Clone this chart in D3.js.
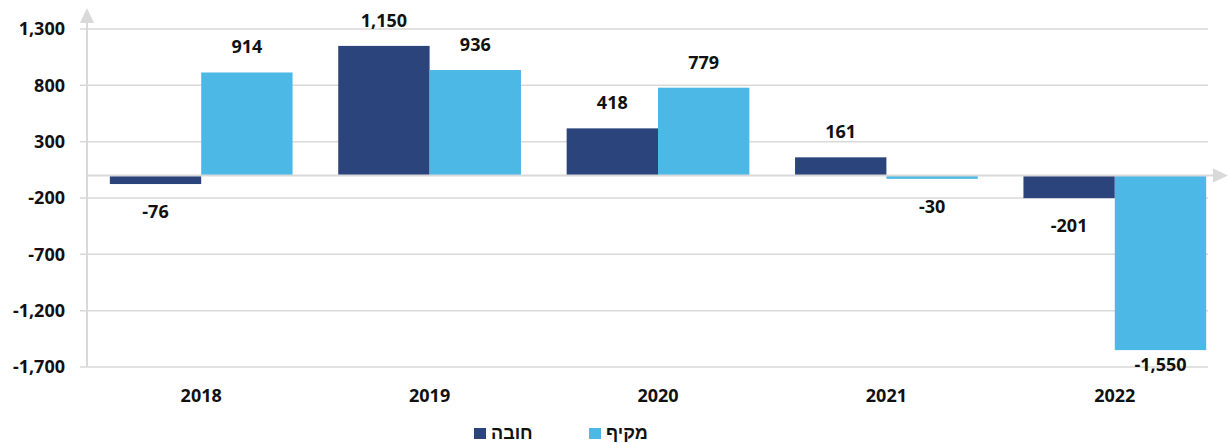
<!DOCTYPE html>
<html>
<head>
<meta charset="utf-8">
<script src="https://cdn.jsdelivr.net/npm/d3@7"></script>
<style>
  body { margin: 0; background: #fff; }
  svg { display: block; font-family: "Noto Sans", sans-serif; font-weight: 700; }
</style>
</head>
<body>
<svg id="chart" width="1229" height="443"></svg>
<script>
const years = ['2018', '2019', '2020', '2021', '2022'];
const seriesNames = ['חובה', 'מקיף'];
const hovaValues = [-76, 1150, 418, 161, -201];
const makifValues = [914, 936, 779, -30, -1550];
const yTicks = [1300, 800, 300, -200, -700, -1200, -1700];
const colors = ['#2b457c', '#4bb8e6'];

const width = 1229, height = 443;
const plot = { left: 87, right: 1229, top: 29, bottom: 367 };
const gridRight = 1208;
const fontSize = 18;

// plain hyphen for negatives, like the original
const fmt = v => d3.format(',')(v).replace('\u2212', '-');

const svg = d3.select('#chart');

const x = d3.scaleBand()
    .domain(years)
    .range([plot.left, plot.right])
    .paddingInner(0.2)
    .paddingOuter(0.1);

const xInner = d3.scaleBand()
    .domain(seriesNames)
    .range([0, x.bandwidth()]);

const y = d3.scaleLinear()
    .domain([-1700, 1300])
    .range([plot.bottom, plot.top]);

const data = years.map((yr, i) => ({
    year: yr,
    values: [
        { name: seriesNames[0], value: hovaValues[i], color: colors[0] },
        { name: seriesNames[1], value: makifValues[i], color: colors[1] }
    ]
}));

// gridlines
svg.append('g')
    .selectAll('line')
    .data(yTicks)
    .enter()
    .append('line')
    .attr('x1', plot.left - 7)
    .attr('x2', gridRight)
    .attr('y1', d => y(d))
    .attr('y2', d => y(d))
    .attr('stroke', '#d9d9d9')
    .attr('stroke-width', 1.5);

// y tick labels
svg.append('g')
    .attr('transform', `translate(${plot.left}, 0)`)
    .call(d3.axisLeft(y).tickValues(yTicks).tickSize(0).tickPadding(22).tickFormat(fmt))
    .call(g => g.select('.domain').remove())
    .selectAll('text')
    .attr('font-size', fontSize)
    .attr('font-family', '"Noto Sans", sans-serif')
    .attr('font-weight', 700)
    .attr('fill', '#111');

// bars
const groups = svg.append('g')
    .selectAll('g')
    .data(data)
    .enter()
    .append('g')
    .attr('transform', d => `translate(${x(d.year)}, 0)`);

groups.selectAll('rect')
    .data(d => d.values)
    .enter()
    .append('rect')
    .attr('x', d => xInner(d.name))
    .attr('width', xInner.bandwidth())
    .attr('y', d => Math.min(y(d.value), y(0)))
    .attr('height', d => Math.abs(y(d.value) - y(0)))
    .attr('fill', d => d.color);

groups.selectAll('text')
    .data(d => d.values)
    .enter()
    .append('text')
    .attr('x', d => xInner(d.name) + xInner.bandwidth() / 2)
    .attr('y', d => d.value >= 0 ? y(d.value) - 19 : Math.min(y(d.value) + 34, 371))
    .attr('text-anchor', 'middle')
    .attr('font-size', fontSize)
    .attr('fill', '#111')
    .text(d => fmt(d.value));

// axes with arrows
const axisColor = '#d9d9d9';
svg.append('line')
    .attr('x1', plot.left).attr('x2', plot.left)
    .attr('y1', plot.bottom).attr('y2', 20)
    .attr('stroke', axisColor).attr('stroke-width', 2);
svg.append('path')
    .attr('d', `M${plot.left - 7},23 L${plot.left + 7},23 L${plot.left},8 Z`)
    .attr('fill', axisColor);

svg.append('line')
    .attr('x1', plot.left).attr('x2', 1216)
    .attr('y1', y(0)).attr('y2', y(0))
    .attr('stroke', axisColor).attr('stroke-width', 2);
svg.append('path')
    .attr('d', `M1213,${y(0) - 7} L1213,${y(0) + 7} L1228,${y(0)} Z`)
    .attr('fill', axisColor);

// x labels
svg.append('g')
    .selectAll('text')
    .data(years)
    .enter()
    .append('text')
    .attr('x', d => x(d) + x.bandwidth() / 2)
    .attr('y', 402)
    .attr('text-anchor', 'middle')
    .attr('font-size', fontSize)
    .attr('fill', '#111')
    .text(d => d);

// legend
const legendItems = [
    { name: seriesNames[0], color: colors[0], x: 474 },
    { name: seriesNames[1], color: colors[1], x: 589 }
];
const legend = svg.append('g')
    .selectAll('g')
    .data(legendItems)
    .enter()
    .append('g')
    .attr('transform', d => `translate(${d.x}, 428)`);
legend.append('rect')
    .attr('width', 12).attr('height', 11)
    .attr('fill', d => d.color);
legend.append('text')
    .attr('x', 17)
    .attr('y', 11)
    .attr('font-size', fontSize)
    .attr('fill', '#111')
    .attr('text-anchor', 'start')
    .text(d => d.name);
</script>
</body>
</html>
